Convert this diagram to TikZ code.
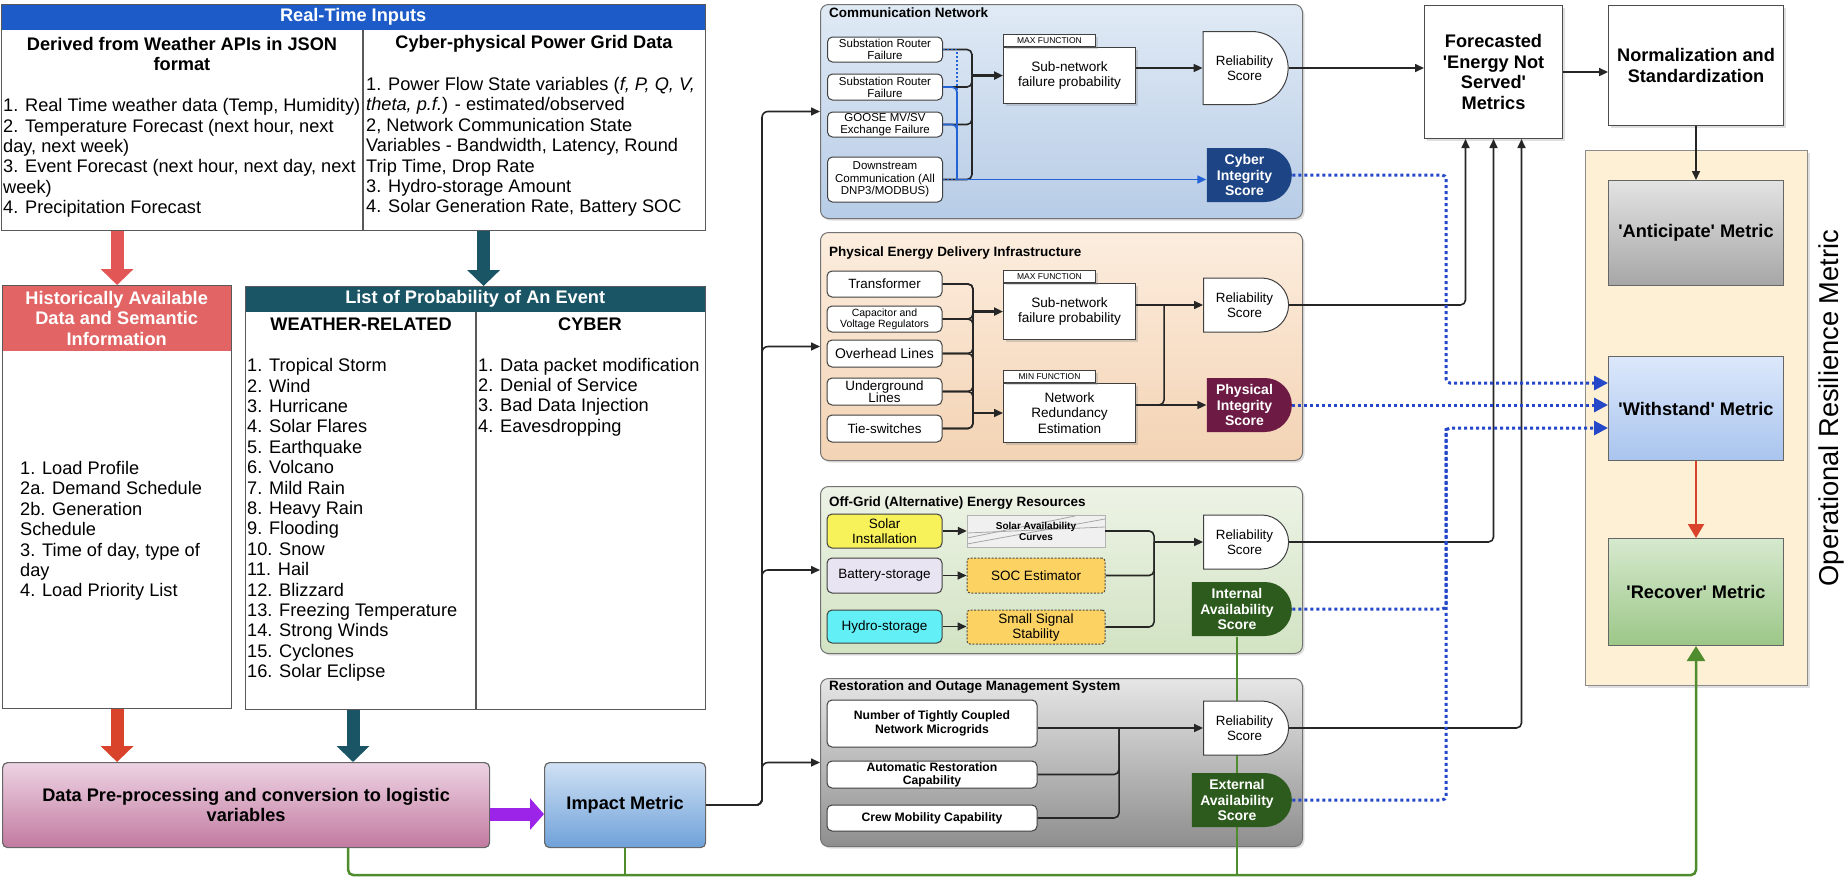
\documentclass[tikz,border=0pt]{standalone}
\usepackage{fontspec}
\setmainfont{Liberation Sans}
\usetikzlibrary{positioning,arrows.meta,calc,shapes.misc,shadows}

\definecolor{rtblue}{HTML}{1D5CC8}
\definecolor{histred}{HTML}{E26464}
\definecolor{tealc}{HTML}{1A5566}
\definecolor{arrred}{HTML}{E35656}
\definecolor{lowred}{HTML}{D9432B}
\definecolor{purp}{HTML}{9B24E8}
\definecolor{pinktop}{HTML}{EDD3E3}
\definecolor{pinkbot}{HTML}{C27AA0}
\definecolor{imptop}{HTML}{D0E1F4}
\definecolor{impbot}{HTML}{6FA1D9}
\definecolor{cntop}{HTML}{E0EAF5}
\definecolor{cnbot}{HTML}{B7CCE6}
\definecolor{petop}{HTML}{FCEDDE}
\definecolor{pebot}{HTML}{F3D3B4}
\definecolor{ogtop}{HTML}{EDF3E6}
\definecolor{ogbot}{HTML}{D2E3C3}
\definecolor{rstop}{HTML}{E6E6E6}
\definecolor{rsbot}{HTML}{8E8E8E}
\definecolor{cisc}{HTML}{1D4585}
\definecolor{pisc}{HTML}{6D1B45}
\definecolor{availc}{HTML}{2D5B1D}
\definecolor{gline}{HTML}{4E8C2E}
\definecolor{dblue}{HTML}{2448C8}
\definecolor{cblue}{HTML}{2363D6}
\definecolor{solarc}{HTML}{F7F25A}
\definecolor{battc}{HTML}{E9E4F2}
\definecolor{hydroc}{HTML}{62EFF5}
\definecolor{socc}{HTML}{FCD262}
\definecolor{creamc}{HTML}{FDF0D5}
\definecolor{anttop}{HTML}{E3E3E3}
\definecolor{antbot}{HTML}{A6A6A6}
\definecolor{wthtop}{HTML}{DCE8FB}
\definecolor{wthbot}{HTML}{A9C4EE}
\definecolor{rectop}{HTML}{D6E9CE}
\definecolor{recbot}{HTML}{9CC788}

\newcommand{\fsz}[2]{\fontsize{#1}{#2}\selectfont}

\begin{document}
\begin{tikzpicture}[x=1pt, y=-1pt,
  txt/.style={inner sep=0pt, align=left, font=\fsz{18.2}{20.4}},
  hdr/.style={inner sep=0pt, align=center, font=\bfseries\fsz{18.2}{20.4}},
  boxframe/.style={draw=black!65, line width=1.2pt, anchor=north west, inner sep=0pt},
  hdrbar/.style={hdr, anchor=north west, text=white},
  fatarr/.style={line width=13pt, -{Triangle[length=16pt,width=32pt]}},
  sysbox/.style={draw=black!55, line width=1pt, rounded corners=8, anchor=north west, inner sep=0pt,
    drop shadow={opacity=0.25, shadow xshift=2pt, shadow yshift=-2pt}},
  systitle/.style={anchor=west, inner sep=0pt, font=\bfseries\fsz{13.5}{15}},
  inbox/.style={draw=black!75, line width=1pt, fill=white, rounded corners=5, align=center,
    inner sep=0.5pt, minimum width=115},
  fnbox/.style={draw=black!75, line width=1pt, fill=white, anchor=north west, minimum width=132,
    align=center, inner sep=1pt, font=\fsz{13.6}{15.6},
    drop shadow={opacity=0.3, shadow xshift=2pt, shadow yshift=-2pt}},
  fntab/.style={draw=black!75, line width=1pt, fill=white, anchor=south west, minimum width=92,
    minimum height=12, inner sep=0pt, font=\fsz{8.5}{9},
    drop shadow={opacity=0.3, shadow xshift=2pt, shadow yshift=-2pt}},
  dscore/.style={rounded rectangle, rounded rectangle west arc=none, draw=black!75, line width=1pt,
    fill=white, minimum width=85, minimum height=54, align=center, inner xsep=0pt, inner ysep=1pt,
    font=\fsz{13.4}{15.4}},
  iscore/.style={dscore, draw=none, text=white, font=\bfseries\fsz{14}{15.6}},
  rbox/.style={draw=black!70, line width=1pt, fill=white, anchor=north west, hdr,
    drop shadow={opacity=0.25, shadow xshift=2pt, shadow yshift=-2pt}},
  metbox/.style={draw=black!60, line width=1pt, anchor=north west, hdr, minimum width=175},
  conn/.style={draw=black!85, line width=1.6pt},
  arr/.style={-{Triangle[length=9pt,width=8pt]}},
  bl/.style={draw=cblue, line width=1.7pt},
  dotl/.style={draw=dblue, line width=3pt, dash pattern=on 3pt off 3pt},
  darr/.style={-{Triangle[length=14pt,width=14pt]}},
  grn/.style={draw=gline, line width=2.5pt}
]
\path[use as bounding box] (0,0) rectangle (1845,879);
\clip (0,0) rectangle (1845,879);

\node[hdrbar, fill=rtblue, minimum width=704, minimum height=26] (rtih) at (1,4) {Real-Time Inputs};
\node[boxframe, minimum width=704, minimum height=226] (rti) at (1,4) {};
\coordinate (rtsplit) at (363,30);
\draw[line width=1.2pt, black!65] (rtsplit) -- (rtsplit |- rti.south);
\node[hdr] (wxh) at (182,54) {Derived from Weather APIs in JSON\\format};
\node[hdr] (cph) at (534,44) {Cyber-physical Power Grid Data};
\node[txt, anchor=west] (wxt) at (3,158) {1. Real Time weather data (Temp, Humidity)\\2. Temperature Forecast (next hour, next\\day, next week)\\3. Event Forecast (next hour, next day, next\\week)\\4. Precipitation Forecast};
\node[txt, anchor=west] (cpt) at (366,147) {1. Power Flow State variables (\textit{f, P, Q, V,}\\\textit{theta, p.f.}) - estimated/observed\\2, Network Communication State\\Variables - Bandwidth, Latency, Round\\Trip Time, Drop Rate\\3. Hydro-storage Amount\\4. Solar Generation Rate, Battery SOC};

\node[hdrbar, fill=histred, minimum width=229, minimum height=66] (hsth) at (2,285) {Historically Available\\Data and Semantic\\Information};
\node[boxframe, minimum width=229, minimum height=423] (hst) at (2,285) {};
\node[txt, anchor=west] (hstt) at (20,531) {1. Load Profile\\2a. Demand Schedule\\2b. Generation\\Schedule\\3. Time of day, type of\\day\\4. Load Priority List};

\node[hdrbar, fill=tealc, minimum width=460, minimum height=26] (lsth) at (245,286) {List of Probability of An Event};
\node[boxframe, minimum width=460, minimum height=423] (lst) at (245,286) {};
\coordinate (lsplit) at (476,312);
\draw[line width=1.2pt, black!65] (lsplit) -- (lsplit |- lst.south);
\node[hdr] (wrh) at (361,324) {WEATHER-RELATED};
\node[hdr] (cyh) at (590,324) {CYBER};
\node[txt, anchor=west] (wrt) at (247,520) {1. Tropical Storm\\2. Wind\\3. Hurricane\\4. Solar Flares\\5. Earthquake\\6. Volcano\\7. Mild Rain\\8. Heavy Rain\\9. Flooding\\10. Snow\\11. Hail\\12. Blizzard\\13. Freezing Temperature\\14. Strong Winds\\15. Cyclones\\16. Solar Eclipse};
\node[txt, anchor=west] (cyt) at (478,397) {1. Data packet modification\\2. Denial of Service\\3. Bad Data Injection\\4. Eavesdropping};

\draw[fatarr, draw=arrred] (rti.south -| hst.north) -- (hst.north);
\draw[fatarr, draw=tealc] ([xshift=8pt]rti.south -| lst.north) -- ([xshift=8pt]lst.north);

\node[hdr, anchor=north west, draw=black!60, line width=1.2pt, rounded corners=5, top color=pinktop, bottom color=pinkbot, minimum width=487, minimum height=85] (pre) at (2,762) {Data Pre-processing and conversion to logistic\\variables};
\node[hdr, anchor=north west, draw=black!60, line width=1.2pt, rounded corners=5, top color=imptop, bottom color=impbot, minimum width=161, minimum height=85] (imp) at (544,762) {Impact Metric};
\draw[fatarr, draw=lowred] (hst.south) -- (hst.south |- pre.north);
\draw[fatarr, draw=tealc] ([xshift=-8pt]wrh |- lst.south) -- ([xshift=-8pt]wrh |- pre.north);
\draw[line width=13pt, draw=purp, -{Triangle[length=14pt,width=31pt]}] ([yshift=-9pt]pre.east) -- ([yshift=-9pt]pre.east -| imp.west);

\node[sysbox, top color=cntop, bottom color=cnbot, minimum width=482, minimum height=214] (cn) at (820,4) {};
\node[systitle] (cnt) at (829,13) {Communication Network};
\node[inbox, font=\fsz{11.5}{12}, minimum height=25] (c1) at (885,49.5) {Substation Router\\Failure};
\node[inbox, font=\fsz{11.5}{12}, minimum height=26] (c2) at (885,87) {Substation Router\\Failure};
\node[inbox, font=\fsz{11.5}{12}, minimum height=25] (c3) at (885,124.5) {GOOSE MV/SV\\Exchange Failure};
\node[inbox, font=\fsz{11.5}{12.5}, minimum height=45] (c4) at (885,179.5) {Downstream\\Communication (All\\DNP3/MODBUS)};
\node[fnbox, minimum height=56] (sn1) at (1003,47) {Sub-network\\failure probability};
\node[fntab] (mx1) at (sn1.north west) {MAX FUNCTION};
\node[dscore, minimum height=73] (rl1) at (1244.5,68) {Reliability\\Score};
\node[iscore, fill=cisc] (cis) at (1244.5,175) {Cyber\\Integrity\\Score};

\node[sysbox, top color=petop, bottom color=pebot, minimum width=482, minimum height=228] (pe) at (820,232) {};
\node[systitle] (pet) at (829,253) {Physical Energy Delivery Infrastructure};
\node[inbox, font=\fsz{13.4}{14}, minimum height=26] (p1) at (884.5,284) {Transformer};
\node[inbox, font=\fsz{10.5}{11}, minimum height=26] (p2) at (884.5,319) {Capacitor and\\Voltage Regulators};
\node[inbox, font=\fsz{14}{14}, minimum height=27] (p3) at (884.5,353.5) {Overhead Lines};
\node[inbox, font=\fsz{13.4}{12.5}, minimum height=27] (p4) at (884.5,391.5) {Underground\\Lines};
\node[inbox, font=\fsz{13.4}{14}, minimum height=27] (p5) at (884.5,428.5) {Tie-switches};
\node[fnbox, minimum height=56] (sn2) at (1003,283) {Sub-network\\failure probability};
\node[fntab] (mx2) at (sn2.north west) {MAX FUNCTION};
\node[fnbox, minimum height=59] (nr) at (1003,383) {Network\\Redundancy\\Estimation};
\node[fntab] (mn2) at (nr.north west) {MIN FUNCTION};
\node[dscore] (rl2) at (1244.5,305) {Reliability\\Score};
\node[iscore, fill=pisc] (pis) at (1244.5,405) {Physical\\Integrity\\Score};

\node[sysbox, top color=ogtop, bottom color=ogbot, minimum width=482, minimum height=167] (og) at (820,486) {};
\node[systitle] (ogt) at (829,503) {Off-Grid (Alternative) Energy Resources};
\node[inbox, font=\fsz{13.5}{15}, fill=solarc, minimum height=34] (o1) at (884.5,531) {Solar\\Installation};
\node[inbox, font=\fsz{13.5}{15}, fill=battc, minimum height=35] (o2) at (884.5,575.5) {Battery-storage};
\node[inbox, font=\fsz{13.5}{15}, fill=hydroc, minimum height=33] (o3) at (884.5,626.5) {Hydro-storage};
\node[draw=black!30, fill=black!6, minimum width=138, minimum height=32, inner sep=0pt, align=center,
  font=\bfseries\fsz{10}{11},
  path picture={
    \draw[black!35, line width=0.8pt] ([yshift=3pt]path picture bounding box.south west) -- ([yshift=-4pt]path picture bounding box.north east);
    \draw[black!35, line width=0.8pt] ([yshift=9pt]path picture bounding box.south west) -- ([yshift=-1pt,xshift=-30pt]path picture bounding box.north east);
    \draw[black!35, line width=0.8pt] ([yshift=14pt]path picture bounding box.south west) -- ([yshift=-12pt]path picture bounding box.north east);
  }] (sac) at (1036,531) {Solar Availability\\Curves};
\node[draw=black!70, dash pattern=on 2pt off 1.5pt, line width=1pt, rounded corners=3, fill=socc, minimum width=138, minimum height=35, inner sep=0pt, font=\fsz{13.5}{15}] (soc) at (1036,575.5) {SOC Estimator};
\node[draw=black!70, dash pattern=on 2pt off 1.5pt, line width=1pt, rounded corners=3, fill=socc, minimum width=138, minimum height=34, inner sep=0pt, align=center, font=\fsz{13.5}{15}] (sss) at (1036,627) {Small Signal\\Stability};
\node[dscore] (rl3) at (1244.5,542) {Reliability\\Score};
\node[iscore, fill=availc, minimum width=100] (ias) at (1237,609) {Internal\\Availability\\Score};

\node[sysbox, top color=rstop, bottom color=rsbot, minimum width=482, minimum height=168] (rs) at (820,678) {};
\node[systitle] (rst) at (829,687) {Restoration and Outage Management System};
\coordinate (gb) at (0,875);
\draw[grn] (ias.south) -- (ias.south |- gb);
\node[inbox, font=\bfseries\fsz{12.2}{14}, minimum width=210, minimum height=47] (r1) at (932,723.5) {Number of Tightly Coupled\\Network Microgrids};
\node[inbox, font=\bfseries\fsz{12.2}{13}, minimum width=210, minimum height=27] (r2) at (932,774.5) {Automatic Restoration\\Capability};
\node[inbox, font=\bfseries\fsz{12.2}{13}, minimum width=210, minimum height=26] (r3) at (932,818) {Crew Mobility Capability};
\node[dscore] (rl4) at (1244.5,728) {Reliability\\Score};
\node[iscore, fill=availc, minimum width=100] (eas) at (1237,800) {External\\Availability\\Score};

\node[rbox, minimum width=138, minimum height=133] (fc) at (1424,5) {Forecasted\\\textquotesingle Energy Not\\Served\textquotesingle\\Metrics};
\node[rbox, minimum width=175, minimum height=120] (nm) at (1608,5) {Normalization and\\Standardization};
\node[draw=black!45, line width=1pt, fill=creamc, anchor=north west, minimum width=222, minimum height=535,
  drop shadow={opacity=0.25, shadow xshift=2pt, shadow yshift=-2pt}] (orm) at (1585,150) {};
\node[metbox, top color=anttop, bottom color=antbot, minimum height=105] (ant) at (1608,180) {\textquotesingle Anticipate\textquotesingle\ Metric};
\node[metbox, top color=wthtop, bottom color=wthbot, minimum height=104] (wth) at (1608,356) {\textquotesingle Withstand\textquotesingle\ Metric};
\node[metbox, top color=rectop, bottom color=recbot, minimum height=107] (rec) at (1608,538) {\textquotesingle Recover\textquotesingle\ Metric};
\node[rotate=90, anchor=base, inner sep=0pt, font=\fsz{27.3}{30}] (ormt) at (1838,408) {Operational Resilience Metric};

\foreach \s in {cn,pe,og,rs}
  \draw[conn, arr, rounded corners=6] (imp.east) -| ([xshift=-58pt]\s.west) -- (\s.west);

\coordinate (jc) at ([xshift=-31pt]sn1.west);
\foreach \i in {c1,c2,c3,c4}
  \draw[conn, rounded corners=5] (\i.east) -| (jc);
\draw[conn, line width=2.8pt, arr] (jc) -- (sn1.west);
\coordinate (jb) at ([xshift=14pt]c4.east);
\draw[bl, dash pattern=on 2pt off 2pt] (c1.east) -| (jb);
\draw[bl, rounded corners=5] (c2.east) -| (jb);
\draw[bl, rounded corners=5] (c3.east) -| (jb);
\draw[bl, dash pattern=on 2pt off 2pt] (c4.east) -- (jb);
\draw[bl, arr] (jb) -- (jb -| cis.west);
\draw[conn, arr] (sn1.east |- rl1.west) -- (rl1.west);
\draw[conn, arr] (rl1.east) -- (rl1.east -| fc.west);

\coordinate (jp1) at ([xshift=-30pt]sn2.west);
\coordinate (jp2) at ([xshift=-30pt]nr.west);
\foreach \i in {p1,p2,p3,p4,p5} {
  \draw[conn, rounded corners=5] (\i.east) -| (jp1);
  \draw[conn, rounded corners=5] (\i.east) -| (jp2);
}
\draw[conn, line width=2.8pt, arr] (jp1) -- (sn2.west);
\draw[conn, arr] (jp2) -- (nr.west);
\draw[conn, arr] (sn2.east |- rl2.west) -- (rl2.west);
\draw[conn, arr] (nr.east |- pis.west) -- (pis.west);
\draw[conn, rounded corners=5] (nr.east |- pis.west) -| ([xshift=-39pt]rl2.west);

\draw[conn, arr] (o1) -- (sac);
\draw[conn, arr] (o2) -- (soc);
\draw[conn, arr] (o3.east) -- (o3.east -| sss.west);
\coordinate (jo) at ([xshift=-49pt]rl3.west);
\foreach \i in {sac,soc,sss}
  \draw[conn, rounded corners=5] (\i.east) -| (jo);
\draw[conn, arr] (jo) -- (rl3.west);

\coordinate (jr) at ([xshift=-84pt]rl4.west);
\draw[conn, arr] (r1.east |- rl4.west) -- (rl4.west);
\foreach \i in {r2,r3}
  \draw[conn, rounded corners=5] (\i.east) -| (jr);

\draw[conn, arr, rounded corners=5] (rl2.east) -| ([xshift=-28pt]fc.south);
\draw[conn, arr, rounded corners=5] (rl3.east) -| (fc.south);
\draw[conn, arr, rounded corners=5] (rl4.east) -| ([xshift=28pt]fc.south);
\draw[conn, line width=2.2pt, arr] (fc.east) -- (fc.east -| nm.west);
\draw[conn, arr] (nm) -- (ant);

\coordinate (dv1) at (1446,383);
\coordinate (dv3) at (1446,428);
\draw[dotl, darr, rounded corners=4] (cis.east) -| (dv1) -- (dv1 -| wth.west);
\draw[dotl, darr] (pis.east) -- (pis.east -| wth.west);
\draw[dotl, rounded corners=4] (ias.east) -| (dv3);
\draw[dotl, darr, rounded corners=4] (eas.east) -| (dv3) -- (dv3 -| wth.west);

\draw[line width=2.2pt, draw=lowred, -{Triangle[length=14pt,width=16pt]}] (wth) -- (rec);

\draw[grn, -{Triangle[length=15pt,width=18pt]}, rounded corners=5] ([xshift=102pt]pre.south) |- (gb -| rec.south) -- (rec.south);
\draw[grn, rounded corners=5] (imp.south) -- (imp.south |- gb);
\end{tikzpicture}
\end{document}
